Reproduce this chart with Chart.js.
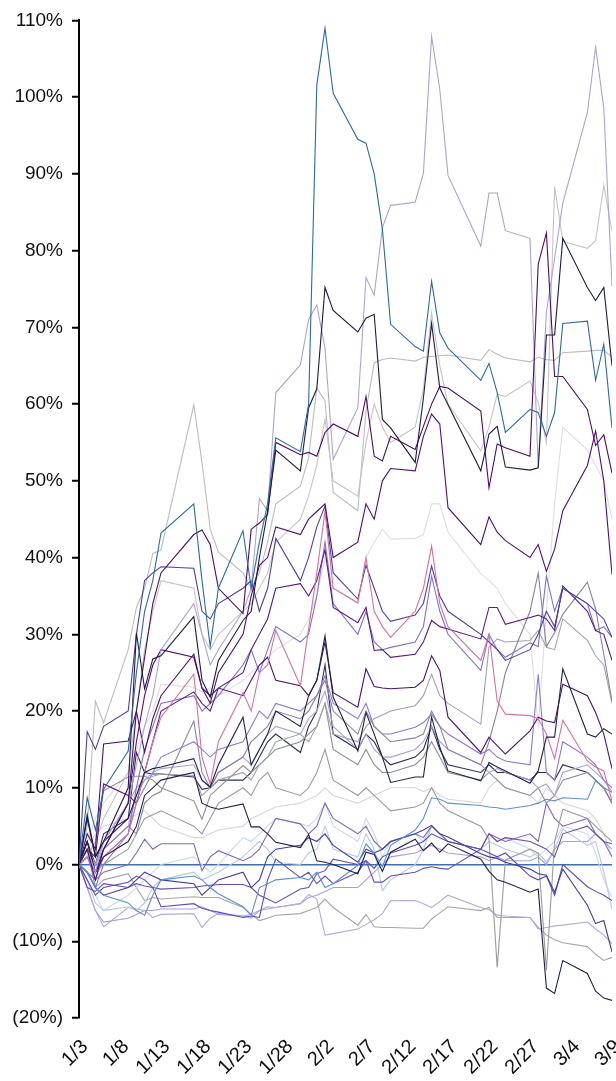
<!DOCTYPE html>
<html>
<head>
<meta charset="utf-8">
<script src="https://cdn.jsdelivr.net/npm/chart.js@4.4.0/dist/chart.umd.min.js"></script>
<style>
  body { margin: 0; background: #fff; }
  canvas { display: block; }
</style>
</head>
<body>
<canvas id="returns-chart" width="616" height="1081"></canvas>
<script>
// trading days, 2023
const dates = ['1/3','1/4','1/5','1/6','1/9','1/10','1/11','1/12','1/13','1/17','1/18','1/19','1/20','1/23','1/24','1/25','1/26','1/27','1/30','1/31',
  '2/1','2/2','2/3','2/6','2/7','2/8','2/9','2/10','2/13','2/14','2/15','2/16','2/17','2/21','2/22','2/23','2/24','2/27','2/28',
  '3/1','3/2','3/3','3/6','3/7','3/8','3/9'];
const tickLabels = ['1/3','1/8','1/13','1/18','1/23','1/28','2/2','2/7','2/12','2/17','2/22','2/27','3/4','3/9'];
const yTicks = [-20, -10, 0, 10, 20, 30, 40, 50, 60, 70, 80, 90, 100, 110];

// cumulative return, %
const steelBlue = [0, 8.7, 4.5, 9.8, 14.8, 25, 33, 37, 43.2, 47, 37, 28.4, 36, 43.5, 36, 42, 47, 55.6, 53.8, 60,
  101.6, 109, 100.5, 94.5, 94, 90, 82.8, 70.4, 67.5, 66.9, 76, 69.3, 67.3, 63.1, 65.3, 61.5, 56.3, 59.3, 58.9,
  55.8, 58.9, 70.5, 70.8, 63.1, 67.8, 56.9];
const lavender = [0, 2, -1, 3, 8, 13, 18, 22, 28, 34, 30, 26, 28, 33, 36, 47.7, 46.1, 61.5, 65.1, 71,
  72.9, 67.3, 52.8, 59.5, 76.5, 74.2, 83, 85.9, 86.3, 90.1, 107.9, 101, 89.8, 80.6, 87.5, 87.5, 82.6, 81.6, 51.7,
  72, 79, 86.2, 98, 106.5, 98.6, 75.4];
const navy = [0, 6, 1, 3, 10, 30.2, 22.9, 26.8, 27.2, 32.3, 24, 21.8, 26.6, 31.8, 33, 40, 46, 54, 51.3, 59.5,
  62, 75.2, 72.2, 69.4, 71.2, 71.7, 58, 56.9, 52.4, 60.8, 70.5, 62.1, 59.9, 51.3, 56.1, 57.1, 51.8, 51.4, 51.7,
  69, 69, 81.6, 75.2, 73.5, 75.2, 65];
const grayHigh = [0, 5, 21.3, 18.5, 28, 33.5, 36, 40.5, 41, 59.9, 52.4, 43.7, 40.7, 38, 36, 38, 42, 47, 49.3, 53,
  62.1, 60.4, 48.5, 46.1, 59.1, 65.4, 65.8, 66, 65.6, 66.1, 66.2, 66.3, 66.4, 65.7, 67.1, 66.5, 66, 65.5, 66.1,
  65.8, 65.7, 66.7, 66.9, 67, 67, 66.1];
const graySpikeHigh = [0, 1, 3, 6, 12, 20, 28, 33, 37, 36, 30, 28, 30, 33, 34, 36, 38, 42, 45, 48,
  52, 58, 50, 48, 55, 60, 57, 55, 57, 62, 71.9, 65, 60, 53.9, 57, 61.3, 61, 63, 60.2,
  55, 88.3, 81.2, 80.3, 81.3, 88.5, 82.5];
const plum1 = [0, 2, -2, 2, 8, 20, 27, 34, 38, 43, 43.6, 41.7, 36, 32.7, 43.7, 44.5, 45.6, 55, 53.4, 53.7,
  53.2, 56.3, 57.4, 55.8, 61, 53.2, 52.6, 55.8, 54.1, 57.1, 60, 62.3, 62.1, 59.1, 49.1, 54.8, 54.3, 53.2, 78.2,
  82.3, 63.6, 63.6, 59.3, 54.6, 56, 51];
const plum2 = [0, 3, -1, 2, 8, 16, 22, 26, 28, 27, 23, 21, 25, 30, 35, 39, 40, 44, 43, 45,
  46, 47, 40, 42, 47, 45, 50, 51.6, 51.3, 55.8, 58.7, 57.4, 46.5, 41.7, 45.3, 43.3, 42.2, 40, 41.7,
  38.2, 41.1, 46.1, 52, 56.5, 50, 37.8];
const plum3 = [0, 2, 1, 10.5, 9, 8, 12, 16, 20, 22.5, 21, 20, 23, 25, 28, 30, 32, 36, 36.6, 35,
  37, 41, 33.5, 31.5, 33.5, 27.9, 28, 27, 27.4, 29, 31.8, 31, 30.7, 29.4, 33.5, 33.5, 31.3, 32.2, 32.5,
  32, 30.5, 36.3, 33, 30.5, 30, 26.6];
const plum4 = [0, 4, 2, 15.7, 16.1, 20, 14.6, 19, 22, 27.4, 23, 22, 23, 22, 24, 26, 27, 24, 23.3, 22,
  24, 29, 22.4, 20.5, 25.5, 23.2, 23, 22.9, 23.1, 24, 27.2, 25.3, 19.2, 14.6, 16.6, 15.5, 14.4, 17.4, 19.2,
  18.7, 18.5, 23.5, 22, 19.8, 17, 12.5];
const pink = [0, 1, -1, 1, 4, 8, 12, 16, 19.2, 24.8, 14, 10.5, 16, 22.4, 20, 25, 26, 30.5, 23.3, 30.7,
  38, 46, 36, 34.1, 40, 33, 31, 29.6, 33, 36, 41.5, 34, 31, 26.6, 30, 21.3, 19.6, 19.4, 19,
  17, 13.8, 18.8, 13.5, 12.7, 12.2, 8.3];
const indigo = [0, 17.3, 15, 18, 20, 30, 37, 38, 38.8, 38.6, 33, 32, 34, 36, 37, 33, 36, 42.5, 37, 40,
  44, 46.7, 38, 34.6, 39, 36, 33, 31.7, 32.5, 34, 38.9, 35, 33, 30, 29, 28, 26.6, 28, 30,
  33, 31, 36, 34, 33, 32, 29.6];
const navyMid = [0, 6.5, 1, 3, 6, 9, 12, 12.5, 12.7, 13.8, 11, 10.1, 13, 19.2, 13, 15, 17, 20, 18, 22,
  24, 29.8, 21.8, 14.8, 19.8, 17, 14, 10.7, 11.4, 11.4, 19.2, 15.3, 12.2, 10.9, 13.3, 12.7, 12.2, 10.6, 12.2,
  16.6, 16.6, 25.5, 17, 16.6, 17.7, 17];
const grayMidHigh = [0, 2, 0, 3, 8, 10, 11, 11.5, 11.8, 11.6, 9, 10, 11, 12, 11, 13, 14, 16, 17, 16,
  18, 21, 17, 16, 18, 19, 19.5, 20, 20.7, 22, 24.8, 22, 21, 18.3, 28.3, 29.4, 29, 29.2, 30.5,
  28.3, 28, 32, 29.2, 27.2, 26, 21];
const mauveGray = [0, 1, -1, 2, 5, 4, 8, 9, 9.5, 18.7, 12, 10, 12, 14, 16, 17, 18, 20, 19, 20,
  22, 24, 20, 17, 20, 18, 17, 16, 16.5, 17, 20, 18, 15, 13, 16, 20, 25, 33, 38,
  28.4, 30.2, 32.6, 36.8, 33.3, 27.4, 21.3];
const periwinkle = [0, 2, -3, 0, 4, 10, 15, 18, 21, 22, 20, 21, 22, 26, 28, 25, 28, 31, 29, 30,
  35, 42, 34, 30, 33, 29, 28, 28.3, 29, 31, 37.6, 33, 30, 25.3, 30, 28, 27, 28.9, 28.4,
  37.6, 33, 36, 34, 30.5, 31, 29.6];
const skyBlue = [0, -1, -3, -4, -5, -6, -6.6, -4, -2, -1.5, -2, -3, -3.8, -5.5, -6.6, -3, -2.5, -2, -1.7, -2,
  -1, -3, -2.5, -0.1, 2.7, 1.5, -0.3, 2.5, 4.5, 6, 8.7, 8.5, 8, 7.7, 7.5, 7.4, 7.2, 7.7, 8,
  8.5, 8.3, 8.7, 8.5, 10.9, 10, 9.4];
const paleBlue1 = [0, -2, -5, -6, -5.5, -6, -5, -3, -2, -1, -2, -1.5, -1, 1, 2, 3, 2, 0.3, 0, 1.5,
  2, 5, 2, 1, 4, 2, -3.4, -2, 0, 2, 5, 4, 3, 2, 3, 2.5, 2, 1, 1.5,
  0.3, 2, 4.6, 2.5, 3, -1, -5.8];
const paleBlue2 = [0, -2, -4, -6, -4, -3, -2, -1, 0, 1, 0, -1, 0, 3.5, 3, 4, 5, 6, 5.3, 5,
  6, 8, 5, 3, 6, 4, 1, 3, 4, 3, 5, 4, 3, 2, 4, 3, 3.5, 2, 1,
  2, 3, 5, 4, 1.5, -2, -4.3];
const indigoLow = [0, -1, -3, -4, -3, -2, -1, -1.5, -2, -2.5, -4, -3, -2, -1, -3, -2, 1, 2, 2.5, 3.5,
  3, 4, 2.5, 0.3, 2, 1.5, 2, 3, 4, 4.5, 5.1, 4, 3.6, 1.4, 1, 0.8, 0.3, -0.6, -1.2,
  -1.4, -3.6, -0.6, -5.3, -7.7, -7.3, -11.4];
const violetLow = [0, -2, -4, -3, -2.3, -1.5, -2, -3, -5.5, -5.1, -5.7, -6, -6.2, -6.9, -6.7, -6.9, -2, 0.7, -1.7, -1,
  -2.5, -1.5, -2.5, -1, 0.5, -0.5, 1, 1.5, 2.5, 3, 4, 3.5, 3, 2, 1.5, 1, 1.5, -1.5, -2,
  -1.5, -4, 0, -2.9, -3.5, -4, -4.7];
const purpleLow = [0, -3, -3.5, -2.5, -3, -2.5, -2.8, -3, -3.2, -3, -2.8, -2.7, -2.6, -2.6, -3, -4, -4.5, -5, -3.2, -3,
  -1.2, -0.8, 0.7, 0, 0.5, -2.3, -2.3, -1.5, -1, -0.5, -0.3, -0.5, -0.6, 2, 4, 3, 3.5, 3, 2.5,
  2, 1, 4, 5, 4, 3, 2.7];
const lilacLow = [0, -3, -6, -8.1, -5.6, -5.8, -6, -6.9, -6.5, -6.4, -8.2, -7, -6.4, -6.7, -6.5, -6, -5.8, -5.6, -5.1, -3.9,
  -4.5, -9.2, -9, -8.4, -7.8, -7.2, -6.4, -4.7, -4.7, -5.1, -5.6, -4.8, -4, -5.6, -5.9, -6.6, -6.7, -6.9, -8.4,
  -8.2, -8, -7.9, -7.5, -8.4, -9.2, -10.3];
const lilacMid = [0, -3, -6, -7.5, -7, -6.5, -6, -6, -5.8, -5.8, -5.5, -6, -6.5, -6.7, -7, -6, -5.5, -5.6, -5.1, -4.3,
  -4, -3.5, -3, -3, -2, -1, 0, 1, 1.5, 2, 2.5, 2, 1.5, 1, 0.5, 1, 0.5, 0.5, 1,
  0, 2, 3, 3, 4, 3, 2];
const graySpikeLow = [0, 1, -1, 0, 2, 4, 6, 6.5, 7, 5, 4, 6, 8, 10, 9, 11, 12, 10, 9, 10,
  12, 15, 11, 9, 10, 9, 8, 7, 7.5, 8, 10, 8, 7, 5, 3.3, -13.4, 0.6, 2, 1.5,
  -13.8, 3, 7.2, 6, 5, 4, 3];
const mediumPurple = [0, 1, -2, 1, 4, 8, 10, 12, 14, 16, 15, 14, 15, 16, 18, 20, 19, 21, 20, 21,
  22, 24.6, 21, 19, 21, 18, 17, 17, 17.9, 18.5, 19.6, 18, 17, 14.4, 15, 14, 13.5, 13, 24.8,
  12, 11, 16, 14, 13, 11, 10];
const lavenderMid = [0, 2, 0, 2, 5, 9, 11, 12, 12.5, 13, 11, 10, 12, 14, 13, 15, 17, 18, 17, 19,
  20, 22.6, 18, 15, 17, 15, 14, 14, 15, 16, 18, 16, 15, 13, 12, 12.5, 12, 11, 10,
  10.5, 9, 12, 13, 12, 11, 9.5];
const grayMid = [0, 1, 3, 9.6, 11.4, 11.5, 11.5, 11, 10, 8.3, 5.9, 9, 10, 12.9, 12, 13, 14, 15, 16, 17,
  18, 21, 15, 13, 15, 13, 12, 12, 13, 14, 16, 14, 12, 11, 12, 11, 10, 9, 10,
  8, 9, 11, 12, 11, 10, 8];
const lightGrayLow = [0, 2, 4, 5, 6, 6.5, 7, 6, 5, 3.5, 3.5, 4, 4.5, 5, 6, 6.5, 7, 7.5, 8, 8.5,
  9, 10, 9, 8, 8.5, 9, 9.5, 10, 10, 9.5, 10, 9, 8.5, 8, 10, 11, 10, 9, 8,
  10, 9, 8, 7, 6, 4, 1];
const lightGrayHigh = [0, 3, 6, 8, 12, 15, 18, 20, 23.5, 23.1, 22.5, 23, 22, 24, 25, 26, 27, 28, 30, 32,
  35, 40, 36, 34, 40, 42, 43.7, 42.4, 42.5, 43, 47, 47, 43.3, 37.9, 37, 36, 34, 30, 18,
  33, 47, 57, 54, 52, 50, 45];
const navyLow = [0, 3, -1, 1, 3, 5, 9, 10, 11, 12, 8, 7.5, 7.2, 7.9, 4.9, 4.9, 4, 2.9, 2.2, 3.9,
  0.5, 0.3, 0, -1.2, 1.6, 1.3, -0.9, 1.6, 3.3, 1.8, 2.8, 1.6, 2.7, 0.7, -0.9, -2, -2.3, -3.6, -3.2,
  -16.1, -16.8, -12.5, -14.2, -16.5, -17.4, -17.7];
const slate = [0, 3, 0, 4, 6, 14.6, 12, 11.8, 11.8, 11.4, 9.8, 10, 11, 11, 12, 14, 16, 17, 14.6, 18,
  20, 26, 17, 15, 17, 16, 14, 13, 14, 15, 18, 15, 13, 12, 13, 12, 12, 11, 12,
  12, 11, 13, 12, 11, 10, 8];
const purpleFlat = [0, -1, -2, -1, 0, 1.5, 3.3, 2, 2.7, 2.7, -0.8, 1, 1.8, 0.5, 1, 2, 4, 6, 5.3, 4,
  5, 8, 6, 4, 5, 3, 2, 3, 4, 3.5, 5, 4, 3, 2, 4, 3.5, 3, 4, 3,
  8, 6, 5, 6, 4, 3, 1];
const grayLow = [0, -1, -3, -2, -1.2, -3, -4.7, -4.3, -4.5, -4.2, -4.3, -4.3, -4.3, -5.6, -6.5, -7.3, -7, -6.6, -6.4, -6,
  -5.6, -4.5, -5.6, -7.9, -6.5, -8.1, -8.2, -8.2, -8.3, -8.3, -7.1, -6.3, -5.5, -6, -5.6, -6.9, -6.9, -6.9, -8.2,
  -9.2, -9.8, -10.2, -10.7, -11.7, -12.5, -12.1];

// [values, colour] — first in list is drawn on top
const seriesList = [
  [steelBlue, '#2b6aa6'], [navy, '#1b1c45'], [plum1, '#4a0b69'], [lavender, '#aaa4d6'],
  [navyLow, '#1d1f4e'], [plum2, '#520e73'], [navyMid, '#1f2248'], [pink, '#d8709b'],
  [indigo, '#4b3fa8'], [plum3, '#5a1a86'], [plum4, '#4d0f70'], [graySpikeHigh, '#c4c4c4'],
  [grayHigh, '#bcbcbc'], [periwinkle, '#7b72cf'], [mauveGray, '#8a7fa3'], [grayMidHigh, '#a3a3ad'],
  [skyBlue, '#5b8fd2'], [indigoLow, '#3f3ca4'], [violetLow, '#5a4cc0'], [purpleLow, '#6a4db3'],
  [graySpikeLow, '#9b9b9b'], [mediumPurple, '#8c79d3'], [lavenderMid, '#a8a2d8'], [grayMid, '#8d8d95'],
  [slate, '#2b2e5e'], [purpleFlat, '#7d66c6'], [paleBlue1, '#b3c9e8'], [paleBlue2, '#c9d8ef'],
  [lilacLow, '#b3a8e2'], [lilacMid, '#a79de0'], [lightGrayLow, '#d7d7d7'], [lightGrayHigh, '#dedede'],
  [grayLow, '#a5a5a5']
];

const firstDay = new Date(2023, 0, 3);
function dayOffset(label) {
  const [m, d] = label.split('/').map(Number);
  return Math.round((new Date(2023, m - 1, d) - firstDay) / 86400000);
}
const xs = dates.map(dayOffset);

Chart.defaults.font.family = '"Liberation Sans", Arial, Helvetica, sans-serif';
Chart.defaults.font.size = 18;
Chart.defaults.color = '#111';

const ctx = document.getElementById('returns-chart').getContext('2d');
const returnsChart = new Chart(ctx, {
  type: 'line',
  data: {
    datasets: seriesList.map(([vals, color]) => ({
      data: vals.map((v, i) => ({ x: xs[i], y: v })),
      borderColor: color,
      borderWidth: 1.1,
      pointRadius: 0,
      tension: 0,
      fill: false
    }))
  },
  options: {
    responsive: false,
    animation: false,
    layout: { padding: { top: 19, right: 4, bottom: 0, left: 0 } },
    plugins: {
      legend: { display: false },
      tooltip: { enabled: false }
    },
    scales: {
      x: {
        type: 'linear',
        min: 0,
        max: 65,
        grid: { display: false, drawTicks: false },
        border: { display: false },
        afterBuildTicks: (s) => { s.ticks = tickLabels.map((t, i) => ({ value: i * 5 })); },
        afterFit: (s) => { s.height = 63; s.paddingLeft = 0; s.paddingRight = 0; },
        ticks: {
          autoSkip: false,
          minRotation: 45,
          maxRotation: 45,
          padding: 17,
          labelOffset: 6,
          font: { size: 20 },
          callback: (v, i) => tickLabels[i]
        }
      },
      y: {
        min: -20,
        max: 110,
        z: 1,
        afterBuildTicks: (s) => { s.ticks = yTicks.map(v => ({ value: v })); },
        afterFit: (s) => { s.width = 79; },
        border: { display: true, color: '#000', width: 2 },
        grid: {
          drawOnChartArea: true,
          drawTicks: true,
          tickLength: 7,
          tickColor: '#000',
          tickWidth: 2,
          lineWidth: 1.5,
          color: (c) => c.tick && c.tick.value === 0 ? '#3d6fb0' : 'rgba(0,0,0,0)'
        },
        ticks: {
          padding: 9,
          font: { size: 19 },
          callback: (v) => v < 0 ? '(' + (-v) + '%)' : v + '%'
        }
      }
    }
  }
});
</script>
</body>
</html>
